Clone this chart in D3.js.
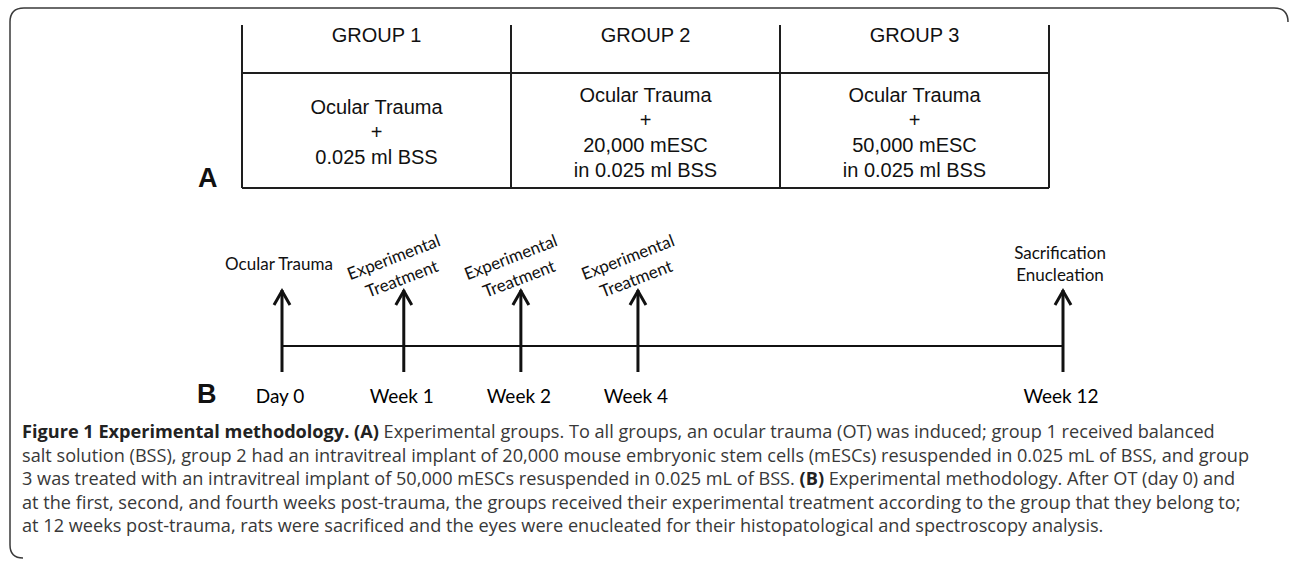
<!DOCTYPE html>
<html>
<head>
<meta charset="utf-8">
<script src="https://cdn.jsdelivr.net/npm/d3@7"></script>
<style>
  body { margin: 0; background: #fff; }
  svg { display: block; }
</style>
</head>
<body>
<script>
// panel A: groups
var groups = ["GROUP 1", "GROUP 2", "GROUP 3"];
var groupContents = [
    ["Ocular Trauma", "+", "0.025 ml BSS"],
    ["Ocular Trauma", "+", "20,000 mESC", "in 0.025 ml BSS"],
    ["Ocular Trauma", "+", "50,000 mESC", "in 0.025 ml BSS"]
];

// panel B: timeline (slots are the schematic spacing)
var timepoints = ["Day 0", "Week 1", "Week 2", "Week 4", "Week 12"];
var timeSlots = [0, 1.04, 2.04, 3.04, 6.67];
var eventKinds = ["trauma", "treatment", "treatment", "treatment", "sacrifice"];
var eventLabels = [
    ["Ocular Trauma"],
    ["Experimental", "Treatment"],
    ["Experimental", "Treatment"],
    ["Experimental", "Treatment"],
    ["Sacrification", "Enucleation"]
];

// caption, one entry per printed line, [text, bold]
var captionLines = [
    [["Figure 1 Experimental methodology. ", true], ["(A)", true], [" Experimental groups. To all groups, an ocular trauma (OT) was induced; group 1 received balanced", false]],
    [["salt solution (BSS), group 2 had an intravitreal implant of 20,000 mouse embryonic stem cells (mESCs) resuspended in 0.025 mL of BSS, and group", false]],
    [["3 was treated with an intravitreal implant of 50,000 mESCs resuspended in 0.025 mL of BSS. ", false], ["(B)", true], [" Experimental methodology. After OT (day 0) and", false]],
    [["at the first, second, and fourth weeks post-trauma, the groups received their experimental treatment according to the group that they belong to;", false]],
    [["at 12 weeks post-trauma, rats were sacrificed and the eyes were enucleated for their histopatological and spectroscopy analysis.", false]]
];

var width = 1290,
    height = 562;

var svg = d3.select("body")
    .append("svg")
    .attr("width", width)
    .attr("height", height);

// outer frame (top + left edge with rounded corners)
var fp = d3.path();
fp.moveTo(1288, 22);
fp.quadraticCurveTo(1288, 8, 1274, 8);
fp.lineTo(24, 8);
fp.quadraticCurveTo(10, 8, 10, 22);
fp.lineTo(10, 545);
fp.quadraticCurveTo(10, 558, 23, 558);
svg.append("path")
    .attr("d", fp.toString())
    .attr("fill", "none")
    .attr("stroke", "#3a3a3a")
    .attr("stroke-width", 1.5);

// ---------- panel A ----------
var tableTop = 25,
    headerBottom = 73,
    tableBottom = 188;

var col = d3.scaleBand()
    .domain(groups)
    .range([242, 1049]);

var tableFont = "'Liberation Sans', Arial, sans-serif";
var lineColor = "#1e1e1e";

var edges = groups.map(function (g) { return col(g); }).concat([col.range()[1]]);

svg.append("g").selectAll("line")
    .data(edges)
    .enter().append("line")
    .attr("x1", function (d) { return d; })
    .attr("x2", function (d) { return d; })
    .attr("y1", tableTop)
    .attr("y2", tableBottom)
    .attr("stroke", lineColor)
    .attr("stroke-width", 2);

svg.append("g").selectAll("line")
    .data([headerBottom, tableBottom])
    .enter().append("line")
    .attr("x1", col.range()[0])
    .attr("x2", col.range()[1])
    .attr("y1", function (d) { return d; })
    .attr("y2", function (d) { return d; })
    .attr("stroke", lineColor)
    .attr("stroke-width", 2);

svg.append("g").selectAll("text")
    .data(groups)
    .enter().append("text")
    .attr("x", function (d) { return col(d) + col.bandwidth() / 2; })
    .attr("y", 42)
    .attr("text-anchor", "middle")
    .style("font-family", tableFont)
    .style("font-size", "20px")
    .attr("fill", "#111")
    .text(function (d) { return d; });

var cell = svg.append("g").selectAll("g")
    .data(groups)
    .enter().append("g")
    .attr("transform", function (d) {
        return "translate(" + (col(d) + col.bandwidth() / 2) + ",0)";
    });

cell.selectAll("text")
    .data(function (d, i) {
        var lines = groupContents[i];
        return lines.map(function (t, j) {
            return { text: t, offset: j - (lines.length - 1) / 2 };
        });
    })
    .enter().append("text")
    .attr("x", 0)
    .attr("y", function (d) { return 139 + d.offset * 25; })
    .attr("text-anchor", "middle")
    .style("font-family", tableFont)
    .style("font-size", "20px")
    .attr("fill", "#111")
    .text(function (d) { return d.text; });

svg.append("text")
    .attr("x", 198)
    .attr("y", 187)
    .style("font-family", tableFont)
    .style("font-size", "27px")
    .style("font-weight", "bold")
    .attr("fill", "#111")
    .text("A");

// ---------- panel B ----------
var x = d3.scaleLinear()
    .domain([0, d3.max(timeSlots)])
    .range([282, 1063]);

var axisY = 346,
    tipY = 290,
    stemBottom = 372;

var labelFont = "Lato, 'Open Sans', sans-serif";

svg.append("line")
    .attr("x1", x(timeSlots[0]))
    .attr("x2", x(d3.max(timeSlots)))
    .attr("y1", axisY)
    .attr("y2", axisY)
    .attr("stroke", "#111")
    .attr("stroke-width", 2);

var events = timepoints.map(function (t, i) {
    return { name: t, slot: timeSlots[i], kind: eventKinds[i], label: eventLabels[i] };
});

var ev = svg.append("g").selectAll("g")
    .data(events)
    .enter().append("g")
    .attr("transform", function (d) { return "translate(" + x(d.slot) + ",0)"; });

// arrow stems
ev.append("line")
    .attr("x1", 0).attr("x2", 0)
    .attr("y1", tipY)
    .attr("y2", stemBottom)
    .attr("stroke", "#111")
    .attr("stroke-width", 3);

// open arrow heads
ev.append("path")
    .attr("d", function () {
        var p = d3.path();
        p.moveTo(-8, tipY + 15);
        p.lineTo(0, tipY + 1);
        p.lineTo(8, tipY + 15);
        return p.toString();
    })
    .attr("fill", "none")
    .attr("stroke", "#111")
    .attr("stroke-width", 3)
    .attr("stroke-linejoin", "miter");

// time labels under the axis
ev.append("text")
    .attr("x", -2)
    .attr("y", 403)
    .attr("text-anchor", "middle")
    .style("font-family", labelFont)
    .style("font-size", "19px")
    .attr("fill", "#000")
    .text(function (d) { return d.name; });

// event labels above the arrows
ev.filter(function (d) { return d.kind === "treatment"; })
    .append("g")
    .attr("transform", "translate(-6,268) rotate(-21)")
    .selectAll("text")
    .data(function (d) { return d.label; })
    .enter().append("text")
    .attr("x", 0)
    .attr("y", function (d, i) { return i === 0 ? -11.5 : 11.5; })
    .attr("dy", "0.35em")
    .attr("text-anchor", "middle")
    .style("font-family", labelFont)
    .style("font-size", "17px")
    .attr("fill", "#111")
    .text(function (d) { return d; });

ev.filter(function (d) { return d.kind !== "treatment"; })
    .selectAll("text.top")
    .data(function (d) { return d.label; })
    .enter().append("text")
    .attr("class", "top")
    .attr("x", -3)
    .attr("y", function (d, i, nodes) { return 270 + (i - (nodes.length - 1) / 2) * 22; })
    .attr("text-anchor", "middle")
    .style("font-family", labelFont)
    .style("font-size", "17px")
    .attr("fill", "#111")
    .text(function (d) { return d; });

svg.append("text")
    .attr("x", 197)
    .attr("y", 403)
    .style("font-family", tableFont)
    .style("font-size", "27px")
    .style("font-weight", "bold")
    .attr("fill", "#111")
    .text("B");

// ---------- caption ----------
var capFont = "'Open Sans', 'Noto Sans', sans-serif";
var cap = svg.append("g");
var capLines = cap.selectAll("text")
    .data(captionLines)
    .enter().append("text")
    .attr("x", 22)
    .attr("y", function (d, i) { return 438 + i * 23.6; })
    .style("font-family", capFont)
    .style("font-size", "17px")
    .attr("fill", "#383838");

capLines.selectAll("tspan")
    .data(function (d) { return d; })
    .enter().append("tspan")
    .style("font-weight", function (d) { return d[1] ? "bold" : "normal"; })
    .attr("fill", function (d) { return d[1] ? "#222" : "#383838"; })
    .text(function (d) { return d[0]; });

// fit the font size so the second (longest) line spans the same width as in the figure
var natural = capLines.nodes()[1].getComputedTextLength();
var capSize = 17 * 1228 / natural;
capLines.style("font-size", capSize + "px");
</script>
</body>
</html>
